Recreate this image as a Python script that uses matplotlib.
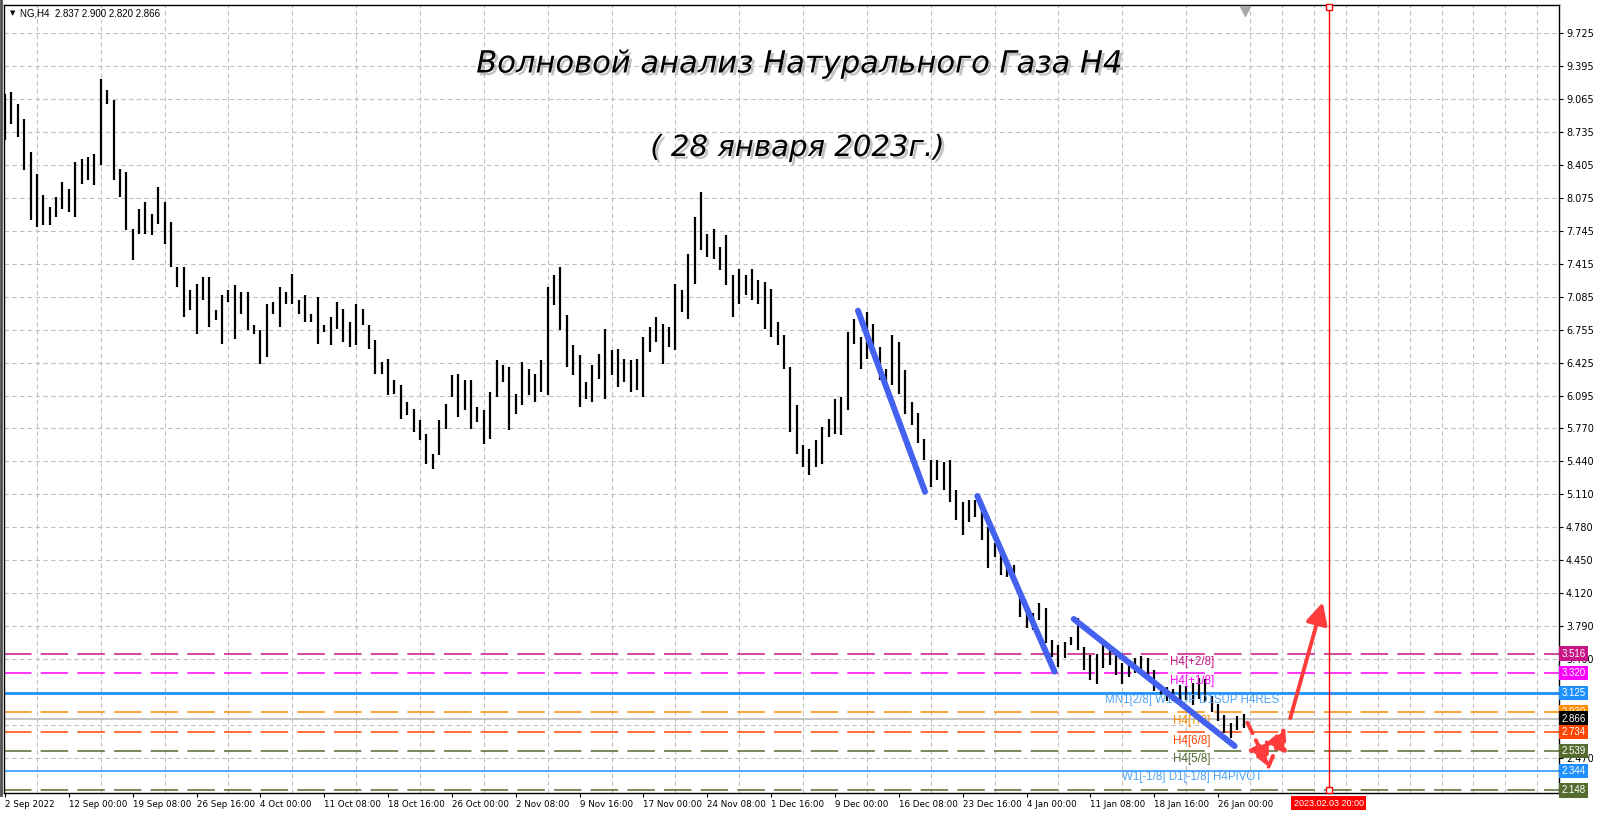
import matplotlib
matplotlib.use("Agg")
import matplotlib.pyplot as plt
import matplotlib.patheffects as pe
from matplotlib.lines import Line2D
from matplotlib.ticker import FixedLocator, MultipleLocator
from matplotlib.transforms import blended_transform_factory

HIGHS = [9.115, 9.132, 9.015, 8.865, 8.532, 8.315, 8.098, 7.982, 8.082, 8.232,
         8.165, 8.432, 8.465, 8.482, 8.515, 9.265, 9.148, 9.048, 8.365, 8.332,
         7.765, 7.965, 8.032, 7.915, 8.182, 8.032, 7.832, 7.382, 7.382, 7.148,
         7.215, 7.282, 7.282, 6.948, 7.098, 7.148, 7.198, 7.132, 7.132, 6.798,
         6.748, 7.015, 7.032, 7.182, 7.132, 7.315, 7.048, 7.098, 6.915, 7.081,
         6.798, 6.881, 7.031, 6.965, 6.831, 7.015, 6.965, 6.798, 6.648, 6.431,
         6.465, 6.248, 6.198, 6.031, 5.965, 5.848, 5.715, 5.515, 5.848, 6.015,
         6.298, 6.315, 6.248, 6.248, 5.981, 5.948, 6.131, 6.448, 6.398, 6.381,
         6.115, 6.431, 6.365, 6.315, 6.448, 7.181, 7.298, 7.381, 6.898, 6.598,
         6.498, 6.231, 6.398, 6.515, 6.765, 6.548, 6.565, 6.465, 6.448, 6.465,
         6.681, 6.781, 6.881, 6.815, 6.781, 7.215, 7.148, 7.515, 7.881, 8.131,
         7.715, 7.765, 7.581, 7.698, 7.298, 7.365, 7.298, 7.365, 7.248, 7.231,
         7.165, 6.831, 6.698, 6.381, 6.000, 5.598, 5.565, 5.648, 5.781, 5.865,
         6.065, 6.081, 6.731, 6.865, 6.681, 6.931, 6.815, 6.581, 6.365, 6.698,
         6.631, 6.348, 6.031, 5.920, 5.660, 5.452, 5.452, 5.435, 5.452, 5.152,
         5.035, 5.052, 5.052, 5.002, 4.785, 4.619, 4.552, 4.452, 4.402, 4.119,
         3.985, 3.919, 4.019, 3.969, 3.652, 3.602, 3.635, 3.685, 3.869, 3.580,
         3.500, 3.510, 3.600, 3.600, 3.500, 3.420, 3.430, 3.470, 3.490, 3.470,
         3.350, 3.190, 3.180, 3.160, 3.200, 3.190, 3.220, 3.270, 3.260, 3.090,
         3.010, 2.900, 2.823, 2.889, 2.913]
LOWS = [8.648, 8.815, 8.682, 8.348, 7.848, 7.782, 7.798, 7.798, 7.882, 7.965,
        7.932, 7.882, 8.215, 8.248, 8.198, 8.398, 9.015, 8.248, 8.082, 7.748,
        7.448, 7.715, 7.715, 7.698, 7.815, 7.615, 7.382, 7.182, 6.882, 6.948,
        6.715, 7.048, 6.782, 6.848, 6.615, 7.032, 6.665, 6.915, 6.748, 6.715,
        6.415, 6.482, 6.915, 6.782, 7.015, 7.015, 6.915, 6.832, 6.831, 6.615,
        6.731, 6.598, 6.765, 6.631, 6.581, 6.598, 6.798, 6.565, 6.315, 6.315,
        6.098, 6.115, 5.865, 5.898, 5.731, 5.648, 5.415, 5.365, 5.498, 5.765,
        6.081, 5.881, 5.948, 5.765, 5.831, 5.615, 5.665, 6.081, 6.231, 5.748,
        5.915, 5.998, 6.098, 6.031, 6.131, 6.098, 6.998, 6.748, 6.381, 6.298,
        5.981, 6.065, 6.031, 6.265, 6.065, 6.298, 6.181, 6.231, 6.131, 6.148,
        6.081, 6.531, 6.631, 6.415, 6.581, 6.548, 6.931, 6.865, 7.215, 7.548,
        7.481, 7.465, 7.348, 7.198, 6.881, 7.015, 7.098, 7.048, 7.015, 6.765,
        6.681, 6.598, 6.365, 5.731, 5.515, 5.381, 5.298, 5.381, 5.415, 5.681,
        5.715, 5.698, 5.948, 6.615, 6.365, 6.465, 6.548, 6.248, 6.215, 6.198,
        6.115, 5.915, 5.800, 5.620, 5.450, 5.185, 5.252, 5.152, 5.035, 4.852,
        4.702, 4.835, 4.885, 4.652, 4.369, 4.485, 4.302, 4.285, 4.285, 3.885,
        3.769, 3.752, 3.852, 3.619, 3.485, 3.385, 3.469, 3.602, 3.552, 3.350,
        3.250, 3.210, 3.370, 3.400, 3.300, 3.210, 3.280, 3.320, 3.320, 3.260,
        3.140, 3.100, 3.040, 3.040, 3.040, 3.050, 3.000, 3.060, 3.030, 2.930,
        2.840, 2.720, 2.673, 2.756, 2.770]

X_LABELS = ["2 Sep 2022", "12 Sep 00:00", "19 Sep 08:00", "26 Sep 16:00",
            "4 Oct 00:00", "11 Oct 08:00", "18 Oct 16:00", "26 Oct 00:00",
            "2 Nov 08:00", "9 Nov 16:00", "17 Nov 00:00", "24 Nov 08:00",
            "1 Dec 16:00", "9 Dec 00:00", "16 Dec 08:00", "23 Dec 16:00",
            "4 Jan 00:00", "11 Jan 08:00", "18 Jan 16:00", "26 Jan 00:00"]
X_LABEL_STEP = 10

PRICE_TICKS = [9.725, 9.395, 9.065, 8.735, 8.405, 8.075, 7.745, 7.415, 7.085,
               6.755, 6.425, 6.095, 5.770, 5.440, 5.110, 4.780, 4.450, 4.120,
               3.790, 3.460, 3.130, 2.800, 2.470]
# these two sit under the level boxes on the scale
HIDDEN_TICKS = [3.130, 2.800]

# murrey / pivot levels
LEVEL_PRICES = [3.516, 3.320, 3.125, 2.930, 2.866, 2.734, 2.539, 2.344, 2.148]
LEVEL_COLORS = ["#c71585", "#ff00ff", "#1e90ff", "#ff8c00", "#000000",
                "#ff4500", "#556b2f", "#1e90ff", "#556b2f"]
LEVEL_LINE_COLORS = ["#c71585", "#ff00ff", "#1e90ff", "#ff8c00", "#b4b4b4",
                     "#ff4500", "#556b2f", "#1e90ff", "#556b2f"]
LEVEL_DASHED = [True, True, False, True, False, True, True, False, True]

NOTES = ["H4[+2/8]", "H4[+1/8]", "MN1[2/8] W1SUP D1SUP H4RES", "H4[7/8]",
         "H4[6/8]", "H4[5/8]", "W1[-1/8] D1[-1/8] H4PIVOT"]
NOTE_PRICES = [3.435, 3.242, 3.052, 2.845, 2.645, 2.459, 2.279]
NOTE_COLORS = ["#c71585", "#ff00ff", "#4da3f5", "#ff8c00", "#ff4500",
               "#556b2f", "#4da3f5"]
NOTE_X = 185.9

# hand drawn wave lines (bar, price)
WAVE_X = [(133.6, 144.1), (152.3, 164.4), (167.4, 192.6)]
WAVE_Y = [(6.945, 5.135), (5.092, 3.335), (3.862, 2.592)]

# forecast arrows
DASH_X = [194.6, 197.9, 200.5]
DASH_Y = [2.825, 2.385, 2.785]
SOLID_X = [201.3, 206.4]
SOLID_Y = [2.869, 4.030]

FUTURE_BAR = 207.3
FUTURE_LABEL = "2023.02.03 20:00"

W, H = 1600, 817
fig = plt.figure(figsize=(W / 100, H / 100), dpi=100)
ax = fig.add_axes([4 / W, 1 - 793 / H, 1555 / W, 788 / H])
plt.rcParams['font.family'] = ['Liberation Sans', 'DejaVu Sans']

bars = list(range(len(HIGHS)))
ax.vlines(bars, LOWS, HIGHS, color="black", lw=1.6, zorder=3)

for price, col, dashed in zip(LEVEL_PRICES, LEVEL_LINE_COLORS, LEVEL_DASHED):
    if dashed:
        ax.axhline(price, color=col, lw=1.1, linestyle=(0, (18, 6)), zorder=2)
    elif price == 3.125:
        ax.axhline(price, color=col, lw=2.0, zorder=2)
    else:
        ax.axhline(price, color=col, lw=1.1, zorder=2)

for txt, p, col in zip(NOTES, NOTE_PRICES, NOTE_COLORS):
    ax.text(NOTE_X, p, txt, color=col, fontsize=8.3, ha="center", va="center", zorder=4)

for xs, ys in zip(WAVE_X, WAVE_Y):
    ax.plot(xs, ys, color="#4561ef", lw=4.3, solid_capstyle="round", zorder=6)

red = "#ff3c3c"
for i in range(len(DASH_X) - 1):
    ax.annotate("", xy=(DASH_X[i + 1], DASH_Y[i + 1]), xytext=(DASH_X[i], DASH_Y[i]),
                arrowprops=dict(arrowstyle="-|>,head_length=1.0,head_width=0.5",
                                color=red, lw=2.8, linestyle=(0, (3, 2)),
                                shrinkA=0, shrinkB=0, mutation_scale=13), zorder=7)
ax.annotate("", xy=(SOLID_X[1], SOLID_Y[1]), xytext=(SOLID_X[0], SOLID_Y[0]),
            arrowprops=dict(arrowstyle="-|>,head_length=1.0,head_width=0.5",
                            color=red, lw=2.8, shrinkA=0, shrinkB=0,
                            mutation_scale=13), zorder=7)

ax.axvline(FUTURE_BAR, color="#ff0000", lw=1.0, zorder=5)
tr_xa = blended_transform_factory(ax.transData, ax.transAxes)
ax.plot([FUTURE_BAR, FUTURE_BAR], [0.997, 0.004], "s", ms=4, mfc="white",
        mec="#ff0000", mew=1, transform=tr_xa, clip_on=False, zorder=8)
ax.text(FUTURE_BAR, -0.0127, FUTURE_LABEL, transform=tr_xa, color="white",
        fontsize=6.5, ha="center", va="center",
        bbox=dict(boxstyle="square,pad=0.25", fc="#ff0000", ec="none"))
ax.plot([194.2], [0.993], marker="v", ms=7, color="#a8a8a8", transform=tr_xa,
        clip_on=False, zorder=8)

# axes, ticks, grid
ax.set_xlim(-0.157, 243.4)
ax.set_ylim(2.122, 10.002)
ax.set_xticks([i * X_LABEL_STEP for i in range(len(X_LABELS))])
ax.set_xticklabels(X_LABELS, fontsize=6.3, ha="left")
ax.xaxis.set_minor_locator(MultipleLocator(5))
ax.yaxis.set_major_locator(FixedLocator(PRICE_TICKS))
ax.set_yticklabels(["" if p in HIDDEN_TICKS else f"{p:.3f}" for p in PRICE_TICKS],
                   fontsize=7)
ax.yaxis.tick_right()
ax.tick_params(axis="x", which="major", length=3, pad=2, direction="out")
ax.tick_params(axis="x", which="minor", length=0)
ax.tick_params(axis="y", length=3, pad=2, direction="out")
ax.grid(axis="x", which="minor", color="#c0c0c0", lw=0.8, linestyle=(0, (4, 3)))
ax.grid(axis="y", which="major", color="#c0c0c0", lw=0.8, linestyle=(0, (4, 3)))
for s in ax.spines.values():
    s.set_color("black")
    s.set_linewidth(1.0)

tr_ay = blended_transform_factory(ax.transAxes, ax.transData)
for price, col in zip(LEVEL_PRICES, LEVEL_COLORS):
    ax.text(1.0015, price, f"{price:.3f}", transform=tr_ay, color="white",
            fontsize=7, ha="left", va="center", zorder=10,
            bbox=dict(boxstyle="square,pad=0.22", fc=col, ec="none"))

# header and titles
fig.text(10 / W, 1 - 13 / H, "\u25bc", fontsize=5, va="center", family="DejaVu Sans")
fig.text(20 / W, 1 - 13 / H, "NG,H4  2.837 2.900 2.820 2.866", fontsize=7, va="center")
shadow = [pe.withSimplePatchShadow(offset=(2, -2), shadow_rgbFace="#888888", alpha=0.5)]
fig.text(799 / W, 1 - 64 / H, "Волновой анализ Натурального Газа H4", fontsize=22,
         ha="center", va="center", style="italic", family="DejaVu Sans", path_effects=shadow)
fig.text(797 / W, 1 - 148 / H, "( 28 января 2023г.)", fontsize=21,
         ha="center", va="center", style="italic", family="DejaVu Sans", path_effects=shadow)

fig.add_artist(Line2D([1 / W, 1 / W], [1 - 795 / H, 1], color="#505050", lw=2))

fig.savefig("out.png", dpi=100)
